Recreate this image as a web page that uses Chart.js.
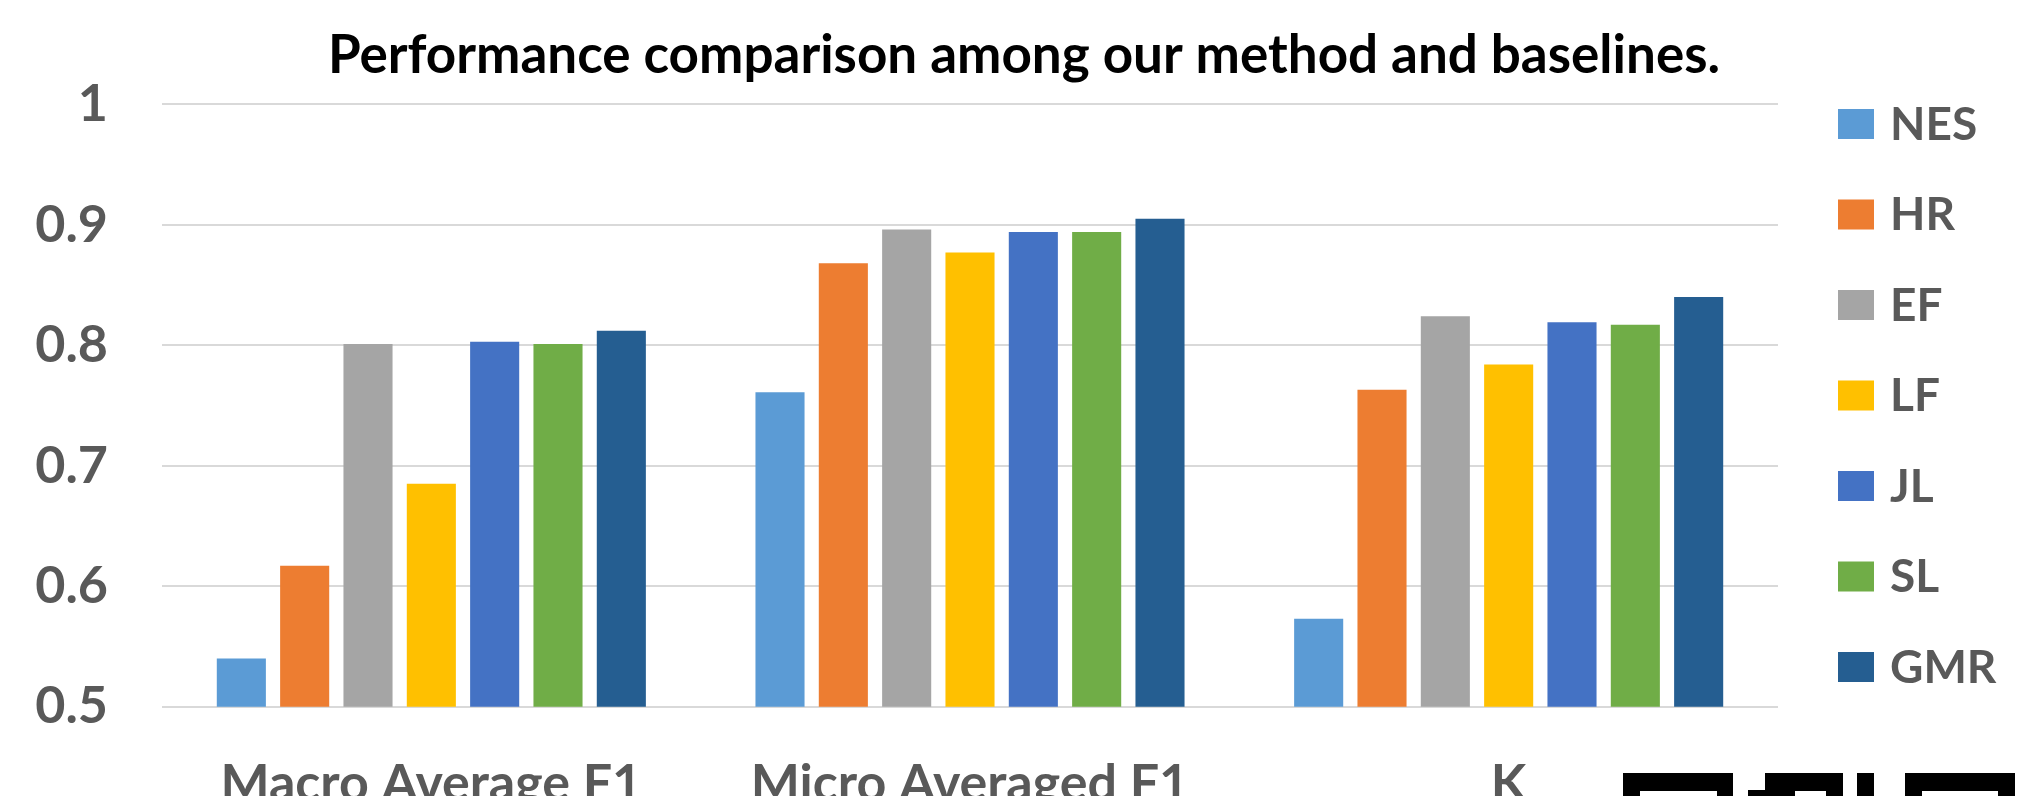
<!DOCTYPE html>
<html>
<head>
<meta charset="utf-8">
<title>Performance comparison</title>
<script src="https://cdn.jsdelivr.net/npm/chart.js@4/dist/chart.umd.min.js"></script>
<style>
  html, body { margin: 0; padding: 0; background: #ffffff; }
  #wrap { width: 2040px; height: 796px; overflow: hidden; }
</style>
</head>
<body>
<div id="wrap"><canvas id="chart" width="2040" height="796"></canvas></div>
<script>
// Metric groups shown along the x axis
const categories = ['Macro Average F1', 'Micro Averaged F1', 'K'];

// Method names and their scores for each metric group
const methods = ['NES', 'HR', 'EF', 'LF', 'JL', 'SL', 'GMR'];
const nesScores = [0.540, 0.761, 0.573];
const hrScores  = [0.617, 0.868, 0.763];
const efScores  = [0.801, 0.896, 0.824];
const lfScores  = [0.685, 0.877, 0.784];
const jlScores  = [0.803, 0.894, 0.819];
const slScores  = [0.801, 0.894, 0.817];
const gmrScores = [0.812, 0.905, 0.840];

// Y axis ticks
const yTickValues = [0.5, 0.6, 0.7, 0.8, 0.9, 1.0];
const yTickLabels = ['0.5', '0.6', '0.7', '0.8', '0.9', '1'];

const chartTitle = 'Performance comparison among our method and baselines.';

const seriesScores = [nesScores, hrScores, efScores, lfScores, jlScores, slScores, gmrScores];
const seriesColors = ['#5B9BD5', '#ED7D31', '#A5A5A5', '#FFC000', '#4472C4', '#70AD47', '#255E91'];

const FONT = 'Lato, "Open Sans", sans-serif';
const LABEL_GREY = '#595959';

// Title centred over the whole figure
const figureTitle = {
  id: 'figureTitle',
  afterDraw(chart) {
    const ctx = chart.ctx;
    ctx.save();
    ctx.font = 'bold 53px ' + FONT;
    ctx.fillStyle = '#000000';
    ctx.textAlign = 'center';
    ctx.textBaseline = 'alphabetic';
    ctx.fillText(chartTitle, 1024, 73);
    ctx.restore();
  }
};

// Legend listed in a column to the right of the plot
const sideLegend = {
  id: 'sideLegend',
  afterDraw(chart) {
    const ctx = chart.ctx;
    const area = chart.chartArea;
    const boxX = area.right + 60;
    const boxW = 36, boxH = 30;
    const firstY = 124, step = 90.5;
    ctx.save();
    ctx.font = 'bold 46px ' + FONT;
    ctx.textBaseline = 'middle';
    ctx.textAlign = 'left';
    chart.data.datasets.forEach((ds, i) => {
      const cy = firstY + i * step;
      ctx.fillStyle = ds.backgroundColor;
      ctx.fillRect(boxX, cy - boxH / 2, boxW, boxH);
      ctx.fillStyle = LABEL_GREY;
      ctx.fillText(ds.label, boxX + boxW + 16, cy + 1);
    });
    ctx.restore();
  }
};

// Dark emblem partially visible at the lower right edge
const cornerEmblem = {
  id: 'cornerEmblem',
  afterDraw(chart) {
    const ctx = chart.ctx;
    ctx.save();
    ctx.fillStyle = '#000000';
    ctx.fillRect(1623, 773, 110, 30);
    ctx.fillRect(1765, 773, 78, 30);
    ctx.fillRect(1748, 790, 17, 20);
    ctx.fillRect(1857, 773, 17, 30);
    ctx.fillRect(1905, 773, 110, 30);
    ctx.fillStyle = '#ffffff';
    ctx.fillRect(1640, 791, 77, 10);
    ctx.fillRect(1795, 791, 31, 10);
    ctx.fillRect(1922, 791, 76, 10);
    ctx.restore();
  }
};

function draw() {
  const datasets = methods.map((name, i) => ({
    label: name,
    data: seriesScores[i],
    backgroundColor: seriesColors[i],
    borderWidth: 0,
    categoryPercentage: 0.823,
    barPercentage: 0.775
  }));

  new Chart(document.getElementById('chart'), {
    type: 'bar',
    data: { labels: categories, datasets },
    plugins: [figureTitle, sideLegend, cornerEmblem],
    options: {
      responsive: false,
      devicePixelRatio: 1,
      animation: false,
      layout: { padding: { left: 0, right: 262, top: 104.3, bottom: 0 } },
      plugins: {
        legend: { display: false },
        tooltip: { enabled: false },
        title: { display: false }
      },
      scales: {
        x: {
          grid: { display: false, drawTicks: false },
          border: { display: false },
          ticks: {
            color: LABEL_GREY,
            font: { family: FONT, size: 52, weight: 'bold' },
            padding: 46,
            maxRotation: 0,
            autoSkip: false
          },
          afterFit(scale) { scale.height = 89.3; }
        },
        y: {
          min: 0.5,
          max: 1.0,
          grid: { color: '#d9d9d9', lineWidth: 2, drawTicks: false },
          border: { display: false },
          afterBuildTicks(scale) {
            scale.ticks = yTickValues.map(v => ({ value: v }));
          },
          ticks: {
            color: LABEL_GREY,
            font: { family: FONT, size: 52, weight: 'bold' },
            padding: 54,
            callback(value) {
              const idx = yTickValues.findIndex(v => Math.abs(v - value) < 1e-9);
              return idx >= 0 ? yTickLabels[idx] : '';
            }
          },
          afterFit(scale) { scale.width = 162; }
        }
      }
    }
  });
}

if (document.fonts && document.fonts.load) {
  Promise.all([
    document.fonts.load('bold 53px Lato'),
    document.fonts.load('bold 46px Lato')
  ]).then(draw, draw);
} else {
  draw();
}
</script>
</body>
</html>
